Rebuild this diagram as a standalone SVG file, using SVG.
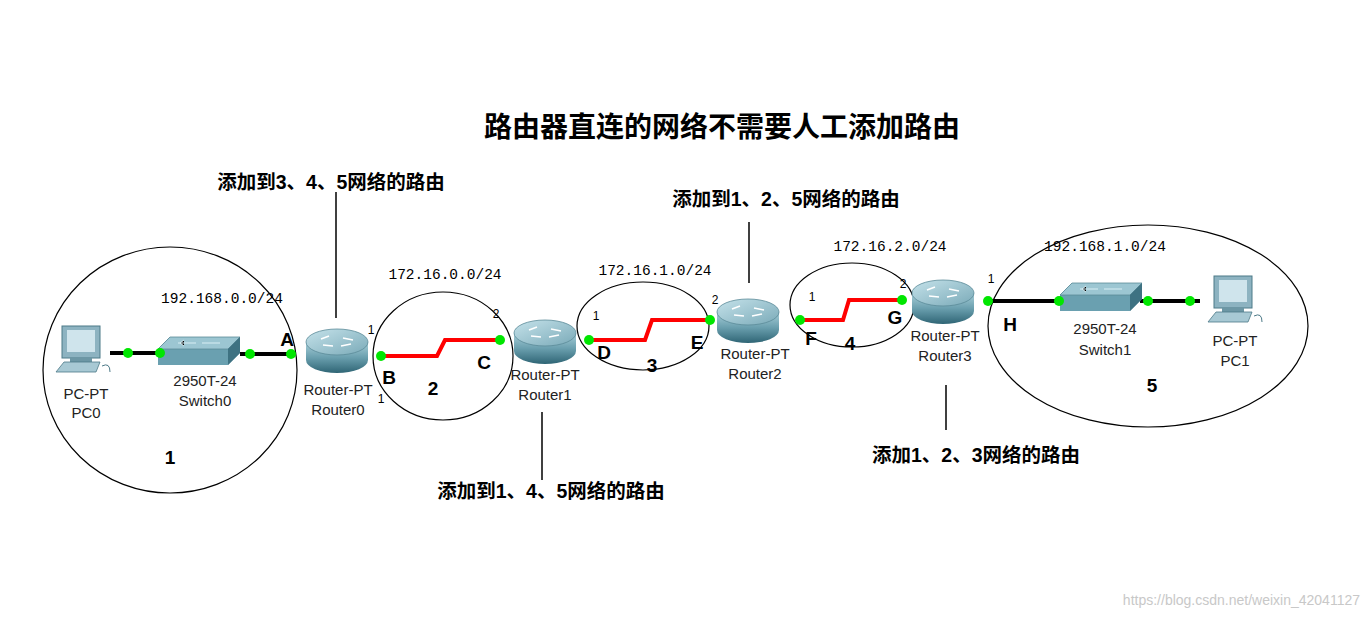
<svg xmlns="http://www.w3.org/2000/svg" width="1368" height="617" viewBox="0 0 1368 617">
<defs>
<linearGradient id="rg" x1="0" y1="0" x2="0" y2="1"><stop offset="0" stop-color="#a9cfd9"/><stop offset="0.5" stop-color="#6a9fae"/><stop offset="1" stop-color="#2f6575"/></linearGradient>
<linearGradient id="rt" x1="0" y1="0" x2="1" y2="1"><stop offset="0" stop-color="#c5e2ea"/><stop offset="1" stop-color="#7aaab8"/></linearGradient>
<g id="router"><path d="M-31,-8 v18 a31,13 0 0 0 62,0 v-18 z" fill="url(#rg)"/><ellipse cx="0" cy="-8" rx="31" ry="13" fill="url(#rt)" stroke="#5a8a98" stroke-width="0.8"/><path d="M-16,-11 l8,-3 M-14,-5 l10,1 M6,-12 l10,2 M4,-4 l10,-2" stroke="#fff" stroke-width="1.6"/></g>
<g id="switch"><path d="M0,12 L12,0 H82 L82,16 L70,28 H0 Z" fill="#6aa0b0"/><path d="M0,12 L12,0 H82 L70,12 Z" fill="#9cc6d2" stroke="#5a8a98" stroke-width="0.8"/><path d="M70,12 L82,0 V16 L70,28 Z" fill="#3e7282"/><path d="M20,6 h18 M44,6 h18 M26,3 l-4,3 4,3" stroke="#d8eef4" stroke-width="1"/></g>
<g id="pc"><rect x="6" y="0" width="38" height="32" fill="#8db3c1" stroke="#4d7a88"/><rect x="11" y="4" width="28" height="22" fill="#cfe4ec"/><rect x="14" y="32" width="22" height="4" fill="#6d97a5"/><path d="M0,46 L8,36 H44 L40,46 Z" fill="#a8c9d4" stroke="#4d7a88" stroke-width="0.8"/><path d="M46,40 q8,-4 8,6" fill="none" stroke="#4d7a88"/></g>
</defs>
<style>
.ell{fill:none;stroke:#000;stroke-width:1.2}
.blk{stroke:#000;stroke-width:4;fill:none}
.red{stroke:#f00;stroke-width:4;fill:none}
.dot{fill:#00e600}
.lbl{font-family:"Liberation Sans",Arial,sans-serif;font-size:15px;fill:#222;text-anchor:middle}
.net{font-family:"Liberation Mono","Courier New",monospace;font-size:14.5px;fill:#000;text-anchor:middle}
.big{font-family:"Liberation Sans",Arial,sans-serif;font-size:19px;font-weight:bold;fill:#000;text-anchor:middle}
.cn{font-family:"Liberation Sans","Noto Sans CJK SC",sans-serif;font-size:19.5px;font-weight:bold;fill:#000;text-anchor:middle}
.sm{font-family:"Liberation Sans",Arial,sans-serif;font-size:12px;fill:#000;text-anchor:middle}
.vl{stroke:#000;stroke-width:1.5}
</style>
<rect width="1368" height="617" fill="#fff"/>
<text x="722" y="137" class="cn" style="font-size:28px">路由器直连的网络不需要人工添加路由</text>
<g id="areas">
<ellipse class="ell" cx="170" cy="370" rx="127" ry="123"/>
<ellipse class="ell" cx="443" cy="356" rx="70" ry="64"/>
<ellipse class="ell" cx="643" cy="326" rx="66" ry="44"/>
<ellipse class="ell" cx="852" cy="305" rx="62" ry="42"/>
<ellipse class="ell" cx="1148" cy="326" rx="160" ry="101"/>
</g>
<g id="connectors">
<path class="blk" d="M110,353 H160"/>
<path class="blk" d="M240,354 H292"/>
<path class="red" d="M381,356 H437 L445,340 H500"/>
<path class="red" d="M589,340 H645 L652,320 H710"/>
<path class="red" d="M800,320 H843 L849,300 H902"/>
<path class="blk" d="M988,301 H1060"/>
<path class="blk" d="M1140,301 H1200"/>
<line class="vl" x1="336" y1="192" x2="336" y2="318"/>
<line class="vl" x1="542" y1="412" x2="542" y2="480"/>
<line class="vl" x1="749" y1="222" x2="749" y2="283"/>
<line class="vl" x1="946" y1="385" x2="946" y2="430"/>
</g>
<g id="PC0"><use href="#pc" x="56" y="326"/><text x="86" y="399" class="lbl">PC-PT</text><text x="86" y="418" class="lbl">PC0</text></g>
<g id="Switch0"><use href="#switch" x="158" y="337"/><text x="205" y="386" class="lbl">2950T-24</text><text x="205" y="406" class="lbl">Switch0</text></g>
<g id="Router0"><use href="#router" x="337" y="350"/><text x="338" y="395" class="lbl">Router-PT</text><text x="338" y="415" class="lbl">Router0</text></g>
<g id="Router1"><use href="#router" x="545" y="341"/><text x="545" y="380" class="lbl">Router-PT</text><text x="545" y="400" class="lbl">Router1</text></g>
<g id="Router2"><use href="#router" x="748" y="320"/><text x="755" y="359" class="lbl">Router-PT</text><text x="755" y="379" class="lbl">Router2</text></g>
<g id="Router3"><use href="#router" x="943" y="301"/><text x="945" y="341" class="lbl">Router-PT</text><text x="945" y="361" class="lbl">Router3</text></g>
<g id="Switch1"><use href="#switch" x="1060" y="283"/><text x="1105" y="334" class="lbl">2950T-24</text><text x="1105" y="355" class="lbl">Switch1</text></g>
<g id="PC1"><use href="#pc" x="1208" y="276"/><text x="1235" y="346" class="lbl">PC-PT</text><text x="1235" y="366" class="lbl">PC1</text></g>
<g id="dots">
<circle class="dot" cx="128" cy="353" r="5"/><circle class="dot" cx="160" cy="353" r="5"/>
<circle class="dot" cx="250" cy="354" r="5"/><circle class="dot" cx="291" cy="354" r="5"/>
<circle class="dot" cx="381" cy="356" r="5"/><circle class="dot" cx="500" cy="340" r="5"/>
<circle class="dot" cx="589" cy="340" r="5"/><circle class="dot" cx="710" cy="320" r="5"/>
<circle class="dot" cx="800" cy="320" r="5"/><circle class="dot" cx="902" cy="300" r="5"/>
<circle class="dot" cx="988" cy="301" r="5"/><circle class="dot" cx="1059" cy="301" r="5"/>
<circle class="dot" cx="1148" cy="301" r="5"/><circle class="dot" cx="1190" cy="301" r="5"/>
</g>
<g id="labels">
<text x="222" y="303" class="net">192.168.0.0/24</text>
<text x="445" y="279" class="net">172.16.0.0/24</text>
<text x="655" y="275" class="net">172.16.1.0/24</text>
<text x="890" y="251" class="net">172.16.2.0/24</text>
<text x="1105" y="251" class="net">192.168.1.0/24</text>
<text x="287" y="346" class="big">A</text><text x="389" y="384" class="big">B</text><text x="484" y="369" class="big">C</text>
<text x="604" y="359" class="big">D</text><text x="697" y="349" class="big">E</text><text x="811" y="345" class="big">F</text>
<text x="895" y="324" class="big">G</text><text x="1010" y="331" class="big">H</text>
<text x="170" y="464" class="big">1</text><text x="433" y="395" class="big">2</text><text x="652" y="372" class="big">3</text><text x="850" y="350" class="big">4</text><text x="1152" y="392" class="big">5</text>
<text x="371" y="334" class="sm">1</text><text x="381" y="403" class="sm">1</text><text x="496" y="318" class="sm">2</text>
<text x="596" y="320" class="sm">1</text><text x="715" y="304" class="sm">2</text><text x="812" y="301" class="sm">1</text><text x="903" y="288" class="sm">2</text><text x="991" y="283" class="sm">1</text>
<text x="331" y="189" class="cn">添加到3、4、5网络的路由</text>
<text x="551" y="498" class="cn">添加到1、4、5网络的路由</text>
<text x="786" y="206" class="cn">添加到1、2、5网络的路由</text>
<text x="976" y="462" class="cn">添加1、2、3网络的路由</text>
<text x="1360" y="605" style="font-family:'Liberation Sans',sans-serif;font-size:14px;fill:#c8c8c8;text-anchor:end">https://blog.csdn.net/weixin_42041127</text>
</g>
</svg>
